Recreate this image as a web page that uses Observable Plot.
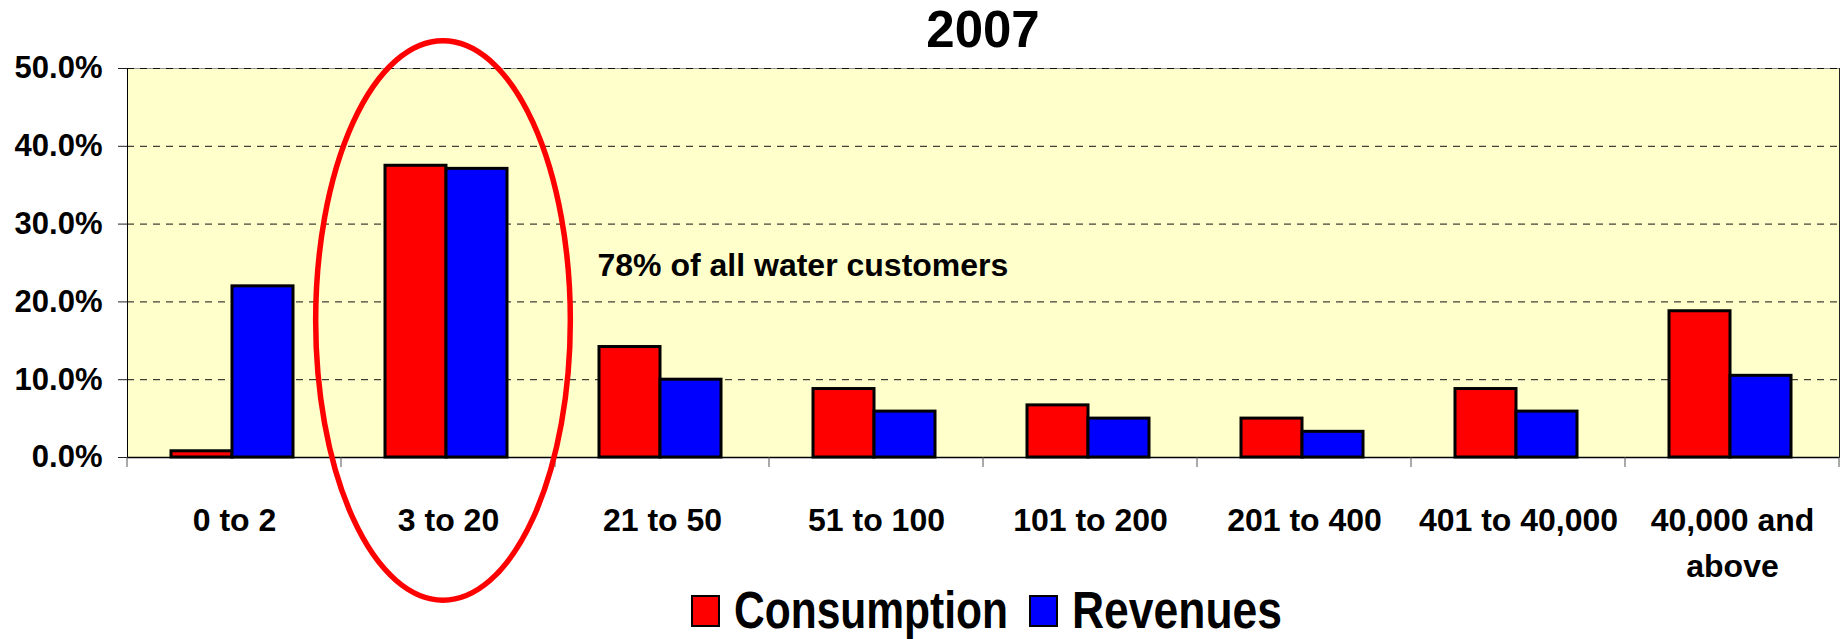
<!DOCTYPE html>
<html>
<head>
<meta charset="utf-8">
<script src="https://cdn.jsdelivr.net/npm/d3@7"></script>
<script src="https://cdn.jsdelivr.net/npm/@observablehq/plot@0.6"></script>
<style>
  html, body { margin: 0; padding: 0; background: #fff; overflow: hidden; }
  #title { height: 60px; line-height: 60px; margin-left: 127px; width: 1712px; text-align: center;
           font: bold 51px "Liberation Sans", Arial, sans-serif; color: #000; }
  #chart svg { display: block; overflow: visible; }
  #legend svg { display: block; }
</style>
</head>
<body>
<div id="title"></div>
<div id="chart"></div>
<div id="legend"></div>
<script>
const title = "2007";
const categories = ["0 to 2", "3 to 20", "21 to 50", "51 to 100", "101 to 200", "201 to 400", "401 to 40,000", "40,000 and above"];
const consumption = [0.008, 0.375, 0.142, 0.088, 0.067, 0.050, 0.088, 0.188];
const revenues    = [0.220, 0.371, 0.100, 0.059, 0.050, 0.033, 0.059, 0.105];
const yTicks = [0, 0.1, 0.2, 0.3, 0.4, 0.5];
const seriesNames = ["Consumption", "Revenues"];
const seriesColors = ["#ff0000", "#0000ff"];
const annotation = "78% of all water customers";
const annotationCategory = "21 to 50";
const highlighted = "3 to 20";

document.getElementById("title").textContent = title;

const consRows = categories.map((c, i) => ({category: c, value: consumption[i]}));
const revRows = categories.map((c, i) => ({category: c, value: revenues[i]}));

const chart = Plot.plot({
  width: 1847,
  height: 515,
  marginTop: 8,
  marginBottom: 118,
  marginLeft: 127,
  marginRight: 8,
  style: {fontFamily: "'Liberation Sans', Arial, sans-serif", fontWeight: "bold", color: "#000", background: "transparent", overflow: "visible"},
  x: {domain: categories, padding: 0, label: null},
  y: {domain: [0, 0.5], label: null},
  marks: [
    Plot.frame({fill: "#ffffcc", stroke: null}),
    Plot.frame({anchor: "top", stroke: "#999"}),
    Plot.gridY({ticks: yTicks.filter(d => d > 0), stroke: "#111", strokeOpacity: 1, strokeDasharray: "7,6"}),
    Plot.frame({anchor: "right", stroke: "#222"}),
    Plot.barY(consRows, {x: "category", y: "value", fill: seriesColors[0], stroke: "#000", strokeWidth: 3, insetLeft: 44, insetRight: 109}),
    Plot.barY(revRows, {x: "category", y: "value", fill: seriesColors[1], stroke: "#000", strokeWidth: 3, insetLeft: 105, insetRight: 48}),
    Plot.ruleY([0], {stroke: "#000", strokeWidth: 1.5}),
    Plot.frame({anchor: "left", stroke: "#000"}),
    Plot.axisY({ticks: yTicks, tickFormat: d3.format(".1%"), tickSize: 9, tickPadding: 16, fontSize: 31, stroke: "#222", label: null}),
    Plot.axisX({tickSize: 0, tickPadding: 41, fontSize: 32, lineHeight: 1.44, tickFormat: d => d.replace(" and ", " and\n"), label: null}),
    Plot.text([annotation], {x: () => annotationCategory, y: () => 0.247, text: d => d, textAnchor: "start", dx: -65, fontSize: 32, fontWeight: "bold", fill: "#000"})
  ]
});
document.getElementById("chart").appendChild(chart);

// category boundary ticks and highlight ellipse, placed with the plot's own scales
const xs = chart.scale("x");
const ys = chart.scale("y");
const svg = d3.select(chart);
const y0 = ys.apply(0);
const edges = categories.map(c => xs.apply(c)).concat([xs.apply(categories[categories.length - 1]) + xs.bandwidth]);
svg.append("g").selectAll("line").data(edges).join("line")
  .attr("x1", d => d).attr("x2", d => d)
  .attr("y1", y0).attr("y2", y0 + 10)
  .attr("stroke", "#555").attr("stroke-width", 1);

const cx = xs.apply(highlighted) + xs.bandwidth / 2 - 5;
const yTop = ys.apply(0.535), yBot = ys.apply(-0.184);
svg.append("ellipse")
  .attr("cx", cx).attr("cy", (yTop + yBot) / 2)
  .attr("rx", xs.bandwidth * 0.595).attr("ry", (yBot - yTop) / 2)
  .attr("fill", "none").attr("stroke", "#ff0000").attr("stroke-width", 5.5);

// legend
const leg = d3.create("svg").attr("width", 1847).attr("height", 64);
const textWidths = [274, 210];
let lx = 692;
seriesNames.forEach((name, i) => {
  leg.append("rect").attr("x", lx).attr("y", 21).attr("width", 27).attr("height", 30)
    .attr("fill", seriesColors[i]).attr("stroke", "#000").attr("stroke-width", 2);
  lx += 27 + 15;
  leg.append("text").attr("x", lx).attr("y", 53).text(name)
    .attr("font-family", "'Liberation Sans', Arial, sans-serif").attr("font-weight", "bold")
    .attr("font-size", 51).attr("textLength", textWidths[i]).attr("lengthAdjust", "spacingAndGlyphs");
  lx += textWidths[i] + 22;
});
document.getElementById("legend").appendChild(leg.node());
</script>
</body>
</html>
